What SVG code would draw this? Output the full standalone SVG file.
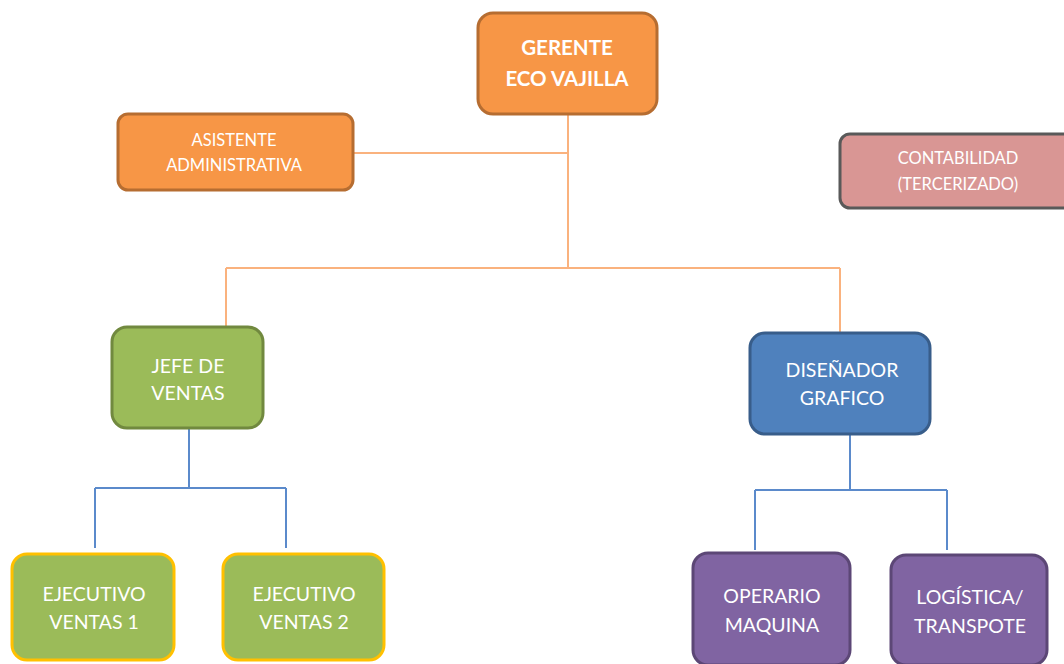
<svg xmlns="http://www.w3.org/2000/svg" width="1064" height="664" viewBox="0 0 1064 664">
<style>
.n rect{stroke-width:3}
.t{font-family:Lato,"Open Sans","Liberation Sans",sans-serif;fill:#fff;text-anchor:middle}
.or rect{fill:#F79646;stroke:#B66D31}
.gr rect{fill:#9BBB59;stroke:#71893F}
.ye rect{fill:#9BBB59;stroke:#FFC000}
.bl rect{fill:#4F81BD;stroke:#385D8A}
.pu rect{fill:#8064A2;stroke:#5C4776}
.pk rect{fill:#D99694;stroke:#595959}
.co{fill:none;stroke-width:2}
.oc{stroke:#FAB27E}
.bc{stroke:#5B8ACB}
</style>
<rect width="1064" height="664" fill="#fff"/>
<g id="connectors">
<path class="co oc" d="M568 115V268M353 153H568M226 268H840M226 268V327M840 268V333"/>
<path class="co bc" d="M189 428V488M95 488H286M95 488V548M286 488V548"/>
<path class="co bc" d="M850 434V490M755 490H947M755 490V550M947 490V550"/>
</g>
<g id="gerente" class="n or"><rect x="478" y="13" width="179" height="101" rx="15"/>
<text class="t" x="567" y="55" font-size="20.5" font-weight="bold">GERENTE</text><text class="t" x="567" y="86" font-size="20.5" font-weight="bold">ECO VAJILLA</text></g>
<g id="asistente" class="n or"><rect x="118" y="114" width="235" height="76" rx="10"/>
<text class="t" x="234" y="146" font-size="16.5">ASISTENTE</text><text class="t" x="234" y="171" font-size="16.5">ADMINISTRATIVA</text></g>
<g id="contabilidad" class="n pk"><rect x="840" y="134" width="234" height="74" rx="10"/>
<text class="t" x="958" y="164" font-size="16.5">CONTABILIDAD</text><text class="t" x="958" y="190" font-size="16.5">(TERCERIZADO)</text></g>
<g id="jefe" class="n gr"><rect x="112" y="327" width="151" height="101" rx="15"/>
<text class="t" x="188" y="373" font-size="19.5">JEFE DE</text><text class="t" x="188" y="400" font-size="19.5">VENTAS</text></g>
<g id="ejecutivo1" class="n ye"><rect x="12" y="554" width="162" height="106" rx="15"/>
<text class="t" x="94" y="601" font-size="19.5">EJECUTIVO</text><text class="t" x="94" y="629" font-size="19.5">VENTAS 1</text></g>
<g id="ejecutivo2" class="n ye"><rect x="223" y="554" width="161" height="106" rx="15"/>
<text class="t" x="304" y="601" font-size="19.5">EJECUTIVO</text><text class="t" x="304" y="629" font-size="19.5">VENTAS 2</text></g>
<g id="disenador" class="n bl"><rect x="750" y="333" width="180" height="101" rx="15"/>
<text class="t" x="842" y="377" font-size="19.5">DISEÑADOR</text><text class="t" x="842" y="405" font-size="19.5">GRAFICO</text></g>
<g id="operario" class="n pu"><rect x="693" y="553" width="157" height="112" rx="15"/>
<text class="t" x="772" y="603" font-size="19.5">OPERARIO</text><text class="t" x="772" y="632" font-size="19.5">MAQUINA</text></g>
<g id="logistica" class="n pu"><rect x="891" y="555" width="156" height="110" rx="15"/>
<text class="t" x="970" y="604" font-size="19.5">LOGÍSTICA/</text><text class="t" x="970" y="633" font-size="19.5">TRANSPOTE</text></g>
</svg>
